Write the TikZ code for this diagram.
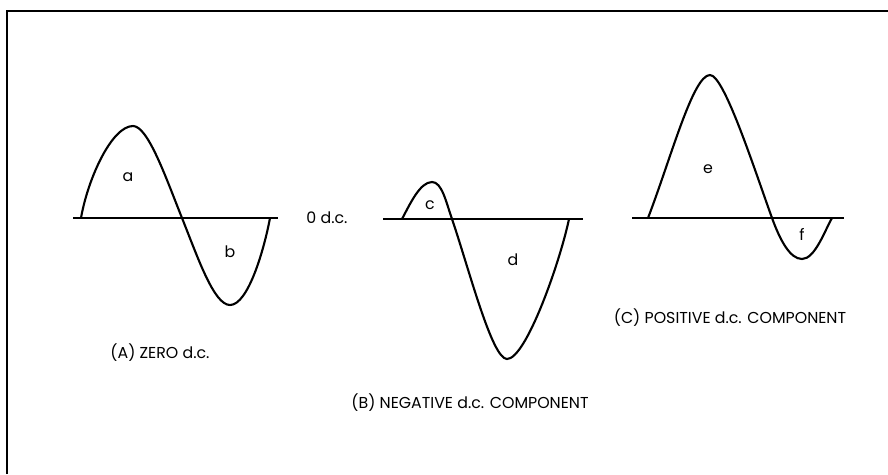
\documentclass[tikz,border=0pt]{standalone}
\usepackage{fontspec}
\setmainfont{Poppins}
\usetikzlibrary{arrows.meta}

\begin{document}
\begin{tikzpicture}[x=0.02cm, y=-0.02cm,
	every node/.style={font=\fontsize{9}{11}\selectfont, inner sep=1pt},
	wave/.style={line width=1.2pt, line join=round},
	axis/.style={line width=0.8pt},
	frame/.style={line width=1.6pt}]
	\useasboundingbox (0,0) rectangle (888,474);
	\draw[frame] (7,474) -- (7,11) -- (888,11);
	% (A)
	\draw[axis] (73,218) -- (278,218);
	\draw[wave] (81,218) .. controls (88,178) and (112,126) .. (133,126)
		.. controls (148,126) and (166,178) .. (182,218)
		.. controls (198,258) and (214,305) .. (230,305)
		.. controls (248,305) and (264,250) .. (270,218);
	\node (a) at (128,177) {a};
	\node (b) at (230,252) {b};
	\node (capA) at (160,353) {(A) ZERO d.c.};
	% (B)
	\node (zero) at (327,218) {0 d.c.};
	\draw[axis] (383,219) -- (583,219);
	\draw[wave] (402,219) .. controls (410,204) and (420,182) .. (432,182)
		.. controls (442,182) and (446,202) .. (452,219)
		.. controls (469,269) and (492,359) .. (507,359)
		.. controls (526,359) and (560,262) .. (569,219);
	\node (c) at (430,205) {c};
	\node (d) at (513,260) {d};
	\node (capB) at (470,403) {(B) NEGATIVE d.c. COMPONENT};
	% (C)
	\draw[axis] (632,218) -- (844,218);
	\draw[wave] (648,218) .. controls (671,158) and (693,75) .. (710,75)
		.. controls (724,75) and (754,168) .. (772,218)
		.. controls (780,240) and (790,259) .. (802,259)
		.. controls (815,259) and (825,230) .. (832,218);
	\node (e) at (708,169) {e};
	\node (f) at (802,234) {f};
	\node (capC) at (730,318) {(C) POSITIVE d.c. COMPONENT};
\end{tikzpicture}
\end{document}
